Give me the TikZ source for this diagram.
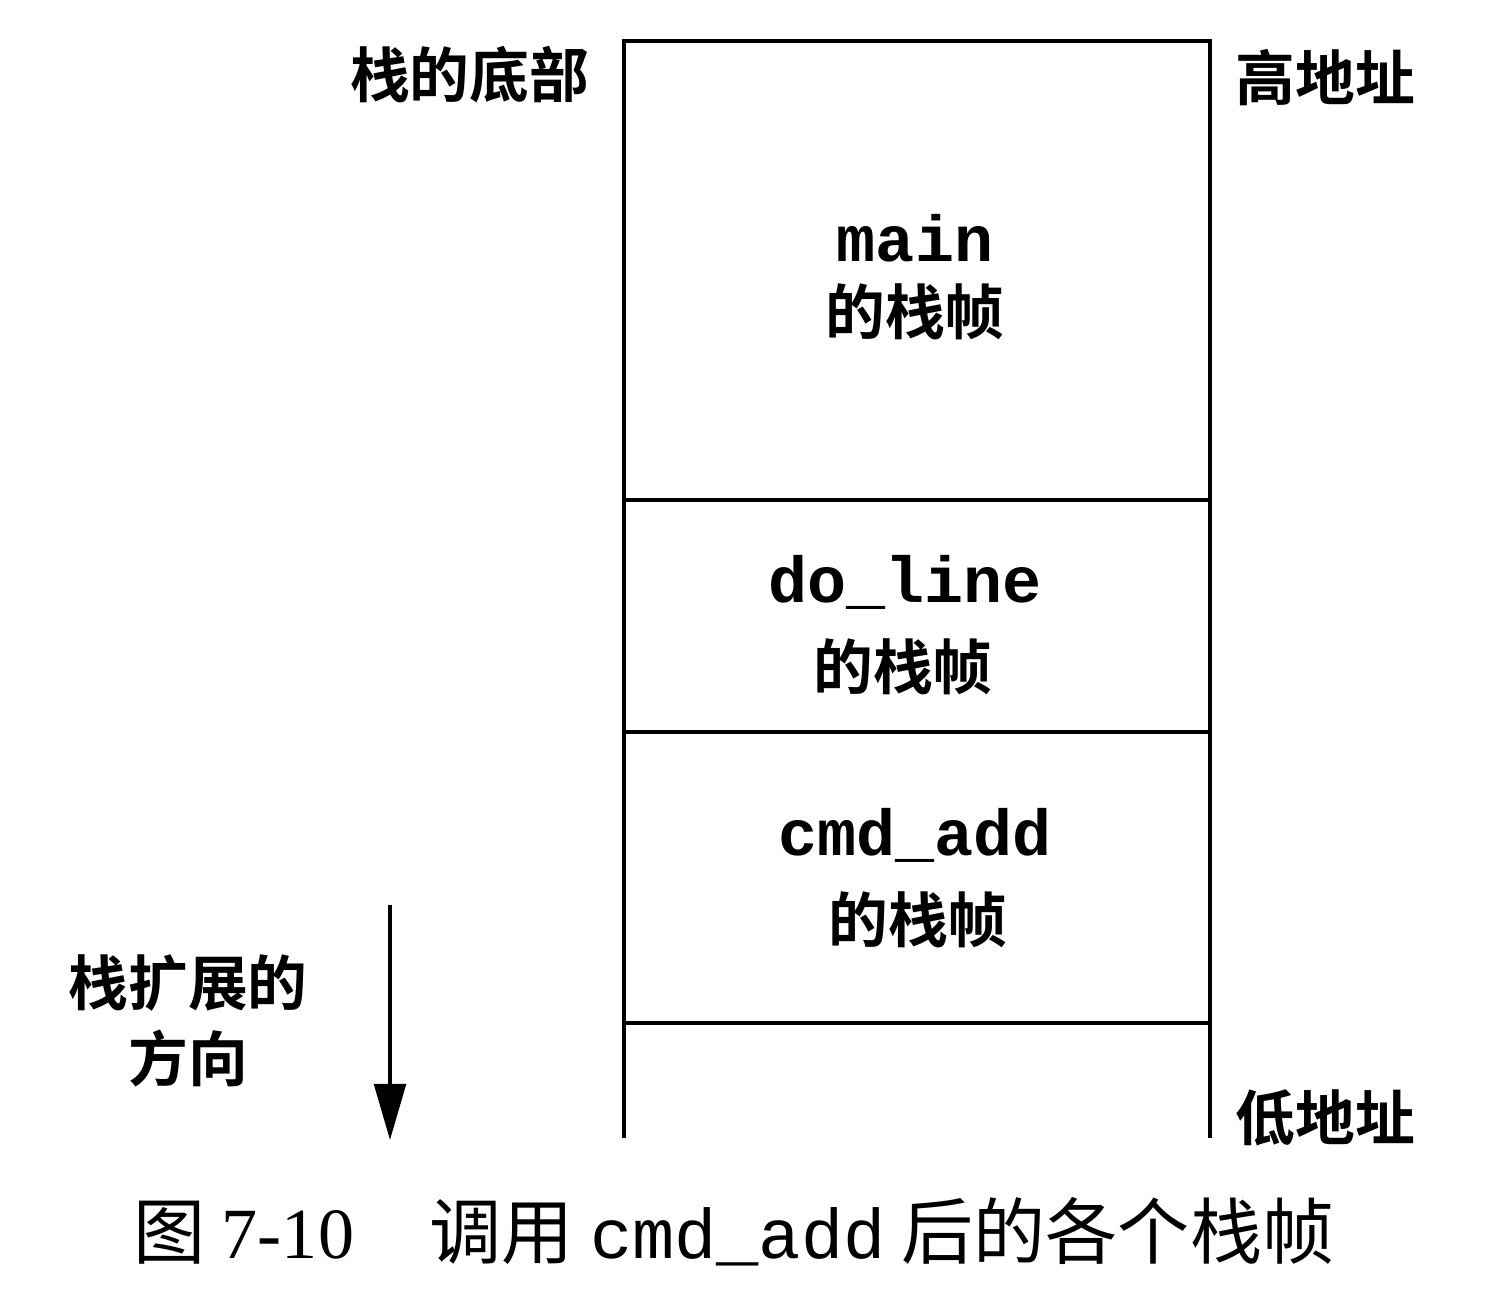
\documentclass[tikz,border=0pt]{standalone}
\usepackage{fontspec}
\usetikzlibrary{arrows.meta}
\newfontfamily\cjk{Noto Sans CJK SC}
\newfontfamily\cjkbf{Noto Sans CJK SC Bold}
\newfontfamily\codebf{Liberation Mono Bold}
\newfontfamily\code{Liberation Mono}
\newfontfamily\numfont{Liberation Serif}
\begin{document}
\begin{tikzpicture}[x=0.01cm,y=-0.01cm,
  frame/.style={line width=1.1pt},
  lbl/.style={inner sep=0pt,font=\cjkbf\fontsize{17}{20}\selectfont},
  fname/.style={inner sep=0pt,font=\codebf\fontsize{18.5}{20}\selectfont},
  growarrow/.style={line width=1.1pt,-{Triangle[width=9pt,length=16pt]}}]
\useasboundingbox (0,0) rectangle (1510,1300);
% stack column corners and frame boundaries
\coordinate (tl) at (624,41);
\coordinate (tr) at (1210,41);
\coordinate (bl) at (624,1138);
\coordinate (br) at (1210,1138);
\coordinate (d1l) at (624,500);  \coordinate (d1r) at (1210,500);
\coordinate (d2l) at (624,732);  \coordinate (d2r) at (1210,732);
\coordinate (d3l) at (624,1023); \coordinate (d3r) at (1210,1023);
\draw[frame] (bl) -- (tl) -- (tr) -- (br);
\draw[frame] (d1l) -- (d1r);
\draw[frame] (d2l) -- (d2r);
\draw[frame] (d3l) -- (d3r);
% frame contents
\node[fname] (m1) at (915,238) {main};
\node[lbl] (m2) at (915,312) {的栈帧};
\node[fname] (l1) at (905,582) {do\_line};
\node[lbl] (l2) at (903,667) {的栈帧};
\node[fname] (c1) at (915,835) {cmd\_add};
\node[lbl] (c2) at (918,920) {的栈帧};
% side labels
\node[lbl,anchor=east] (bottom) at (590,75) {栈的底部};
\node[lbl,anchor=west] (high) at (1235,78) {高地址};
\node[lbl,anchor=west] (low) at (1235,1118) {低地址};
\node[lbl] (dir1) at (188,983) {栈扩展的};
\node[lbl] (dir2) at (188,1058) {方向};
% growth direction arrow
\coordinate (a1) at (390,905);
\coordinate (a2) at (390,1140);
\draw[growarrow] (a1) -- (a2);
% caption
\node[inner sep=0pt,anchor=west,font=\cjk\fontsize{20.5}{24}\selectfont] (cap) at (133,1232)
  {图 {\numfont 7-10}\hspace{1.05em}调用 {\code\fontsize{20}{22}\selectfont cmd\_add} 后的各个栈帧};
\end{tikzpicture}
\end{document}
